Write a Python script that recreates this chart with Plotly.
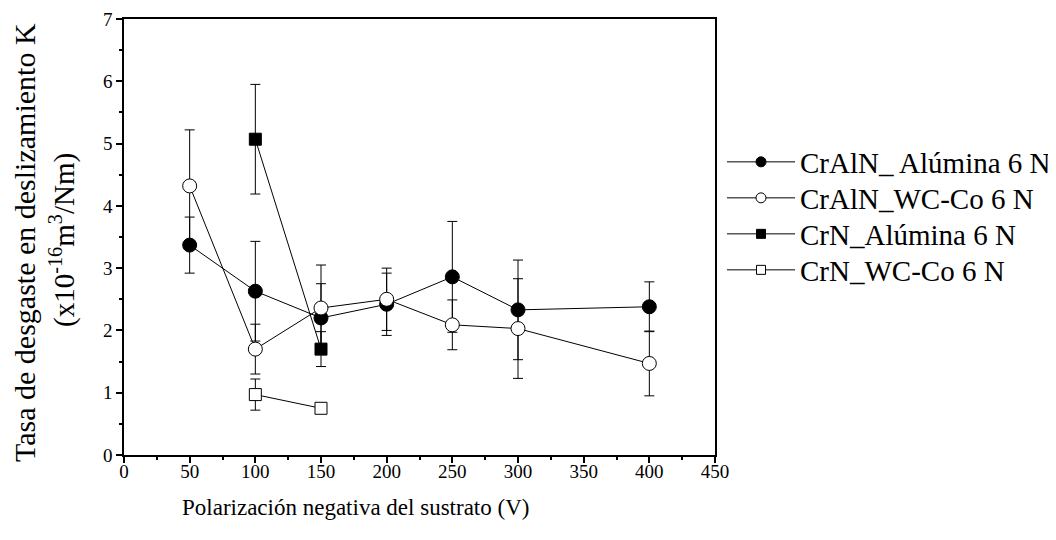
import plotly.graph_objects as go

# CrAlN vs alumina (filled circles)
x_craln = [50, 100, 150, 200, 250, 300, 400]
y_craln_al = [3.37, 2.63, 2.20, 2.42, 2.86, 2.33, 2.38]
e_craln_al = [0.45, 0.80, 0.55, 0.50, 0.89, 0.80, 0.40]
# CrAlN vs WC-Co (open circles)
y_craln_wc = [4.32, 1.70, 2.36, 2.50, 2.09, 2.03, 1.47]
e_craln_wc = [0.90, 0.40, 0.69, 0.50, 0.40, 0.80, 0.52]
# CrN vs alumina (filled squares)
x_crn = [100, 150]
y_crn_al = [5.07, 1.70]
e_crn_al = [0.88, 0.28]
# CrN vs WC-Co (open squares)
y_crn_wc = [0.97, 0.75]
e_crn_wc = [0.25, 0.04]

names = ["CrAlN_ Alúmina 6 N", "CrAlN_WC-Co 6 N", "CrN_Alúmina 6 N", "CrN_WC-Co 6 N"]
y_title_1 = "Tasa de desgaste en deslizamiento K"
y_title_2 = "(x10<sup>-16</sup>m<sup>3</sup>/Nm)"
x_title = "Polarización negativa del sustrato (V)"

FONT = "Liberation Serif"

fig = go.Figure()

legend_ids = ["legend", "legend2", "legend3", "legend4"]

def add(i, x, y, e, symbol, fill, size):
    fig.add_trace(go.Scatter(
        x=x, y=y, mode="lines+markers", name=names[i], showlegend=False,
        line=dict(color="black", width=1),
        marker=dict(symbol=symbol, size=size, color=fill,
                    line=dict(color="black", width=1)),
        error_y=dict(type="data", array=e, visible=True, color="black",
                     thickness=1, width=5),
    ))
    fig.add_trace(go.Scatter(
        x=[None], y=[None], mode="lines+markers", name=names[i], showlegend=True,
        legend=legend_ids[i],
        line=dict(color="black", width=1),
        marker=dict(symbol=symbol, size=10 if "circle" in symbol else 9, color=fill,
                    line=dict(color="black", width=1)),
    ))

add(0, x_craln, y_craln_al, e_craln_al, "circle", "black", 14)
add(1, x_craln, y_craln_wc, e_craln_wc, "circle", "white", 14)
add(2, x_crn, y_crn_al, e_crn_al, "square", "black", 12)
add(3, x_crn, y_crn_wc, e_crn_wc, "square", "white", 12)

axis_common = dict(
    showline=True, linecolor="black", linewidth=1.5, mirror=True,
    ticks="outside", ticklen=6, tickwidth=1.5, tickcolor="black",
    showgrid=False, zeroline=False,
    tickfont=dict(family=FONT, size=19, color="black"),
)

fig.update_xaxes(
    range=[0, 450], tick0=0, dtick=50, ticklabelstandoff=-8,
    minor=dict(ticks="outside", dtick=25, ticklen=3, tickcolor="black", tickwidth=1.5),
    **axis_common,
)
fig.update_yaxes(
    range=[0, 7], tick0=0, dtick=1,
    minor=dict(ticks="outside", dtick=0.5, ticklen=3, tickcolor="black", tickwidth=1.5),
    **axis_common,
)

PW = 591.0
PH = 436.0
fig.add_annotation(text=y_title_1, xref="paper", yref="paper",
                   x=(24 - 124) / PW, y=(455 - 243) / PH, xanchor="center", yanchor="middle",
                   textangle=-90, showarrow=False,
                   font=dict(family=FONT, size=30, color="black"))
fig.add_annotation(text=y_title_2, xref="paper", yref="paper",
                   x=(62 - 124) / PW, y=(455 - 240) / PH, xanchor="center", yanchor="middle",
                   textangle=-90, showarrow=False,
                   font=dict(family=FONT, size=29, color="black"))
fig.add_annotation(text=x_title, xref="paper", yref="paper",
                   x=(355 - 124) / PW, y=(455 - 507) / PH, xanchor="center", yanchor="middle",
                   showarrow=False,
                   font=dict(family=FONT, size=23, color="black"))

row_y = [162, 198, 234, 270]
legend_cfg = {}
for lid, py in zip(legend_ids, row_y):
    legend_cfg[lid] = dict(
        x=1.0 + 7 / PW, y=(455 - py) / PH, xanchor="left", yanchor="middle",
        font=dict(family=FONT, size=29, color="black"),
        itemwidth=68, bgcolor="rgba(0,0,0,0)",
    )

fig.update_layout(
    width=1056, height=540,
    margin=dict(l=116, r=349, t=11, b=93, autoexpand=False),
    paper_bgcolor="white", plot_bgcolor="white",
    font=dict(family=FONT, color="black"),
    **legend_cfg,
)

fig.write_html("out.html")
